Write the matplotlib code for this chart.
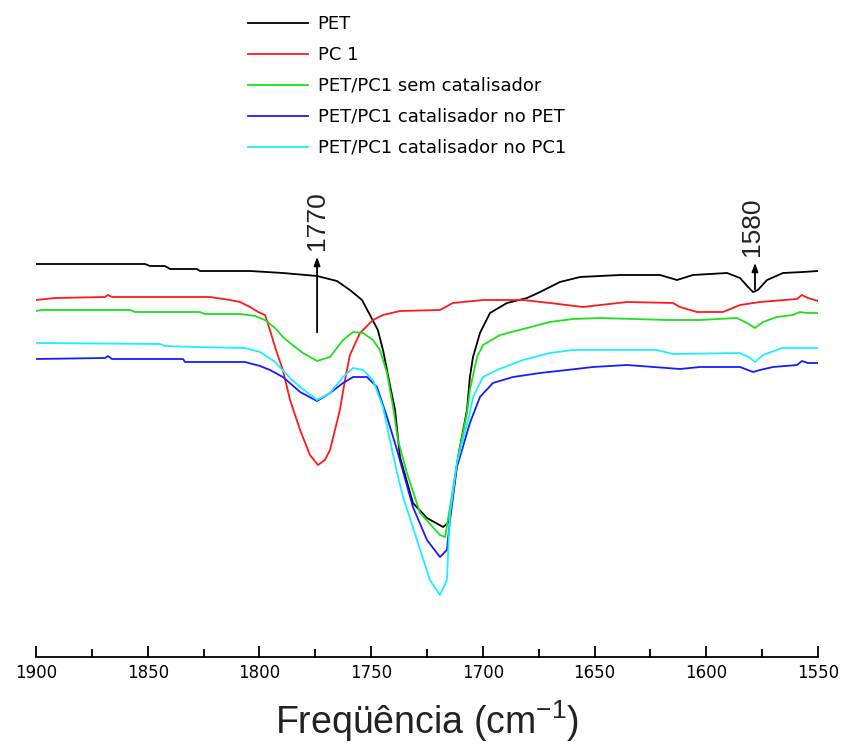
import numpy as np
import matplotlib
matplotlib.use("Agg")
import matplotlib.pyplot as plt
from matplotlib.ticker import MultipleLocator

plt.rcParams["mathtext.fontset"] = "custom"
plt.rcParams["mathtext.rm"] = "Liberation Sans"
plt.rcParams["mathtext.it"] = "Liberation Sans"
arial = ["Liberation Sans", "DejaVu Sans"]

# FTIR spectra, wavenumber (cm-1) vs transmittance (arbitrary units, offset)
pet_x = [1900, 1851.2, 1849, 1842.3, 1840, 1828, 1826.6, 1804.2, 1789.5, 1774.2,
         1765.3, 1759.5, 1754.1, 1750.5, 1747, 1744.7, 1742.9, 1741.6, 1739.3, 1737.1,
         1731.3, 1725, 1717.8, 1715.6, 1713.8, 1711.1, 1707.1, 1705.8, 1704.4, 1701.3,
         1696.8, 1689.2, 1680.2, 1674.4, 1665.5, 1656.5, 1638.6, 1620.7, 1613.1, 1606,
         1590.7, 1584.9, 1581.3, 1579.1, 1576.9, 1572.8, 1565.7, 1556.7, 1550]
pet_y = [78.6, 78.6, 78.2, 78.2, 77.6, 77.6, 77.2, 77.2, 76.8, 76.2,
         75.2, 73.4, 71.4, 68.4, 65.4, 61.4, 57.4, 54.4, 49.4, 40,
         30.8, 27.8, 26, 26.8, 31.4, 40, 49.4, 56, 60, 64.8,
         68.8, 70.8, 71.8, 73, 75, 76, 76.4, 76.4, 75.4, 76.4,
         76.8, 75.8, 74, 73, 73.4, 75.4, 76.8, 77, 77.2]

pc1_x = [1900, 1891.5, 1869.1, 1867.8, 1866, 1822.1, 1813.2, 1808.7, 1804.2, 1800.6,
         1797.5, 1795.3, 1792.6, 1789.5, 1786.3, 1781.8, 1777.4, 1773.8, 1770.7, 1768.4,
         1766.2, 1764, 1761.7, 1759.5, 1755, 1749.2, 1744.7, 1737.1, 1719.2, 1713.4,
         1699.9, 1682, 1669.9, 1655.2, 1635.5, 1614.9, 1611.8, 1604.2, 1592.5, 1584.9,
         1576, 1559.4, 1557.2, 1554.5, 1550]
pc1_y = [71.4, 71.8, 72, 72.4, 72, 72, 71.4, 71, 70, 69,
         68.4, 65.4, 61.4, 57.4, 51.4, 45.4, 40.4, 38.4, 39.4, 41.4,
         45.4, 49.4, 55.4, 60.4, 64.8, 67.4, 68.4, 69.2, 69.4, 70.8,
         71.4, 71.4, 70.8, 70, 71, 70.8, 70, 69, 69, 70.4,
         71, 71.6, 72.4, 71.8, 71.2]

sem_x = [1900, 1897.3, 1857.9, 1855.7, 1826.6, 1824.4, 1808.7, 1802, 1797.5, 1793,
         1789.5, 1786.3, 1780.5, 1774.2, 1768.4, 1762.6, 1758.1, 1753.6, 1749.2, 1746.1,
         1742.9, 1740.2, 1738, 1734, 1728.1, 1719.2, 1716.9, 1714.7, 1711.1, 1707.1,
         1705.8, 1702.6, 1699.9, 1692.3, 1680.2, 1670, 1659.7, 1647.6, 1617.6, 1602.8,
         1586.3, 1581.8, 1578.2, 1574.6, 1568.4, 1561.2, 1558.1, 1554.9, 1550]
sem_y = [69.2, 69.4, 69.4, 69, 69, 68.6, 68.6, 68.2, 67.4, 65.8,
         64, 62.8, 60.8, 59.2, 60, 63.4, 65, 64.8, 63.4, 61.4,
         56.8, 50, 43.4, 36.8, 28.8, 24.4, 24, 30, 40, 48.8,
         53.4, 60, 62.4, 64.4, 65.8, 67, 67.6, 67.8, 67.4, 67.4,
         67.8, 66.8, 65.8, 67, 68, 68.4, 69, 68.8, 68.8]

cat_pet_x = [1900, 1869.1, 1867.8, 1866, 1834.2, 1833.3, 1806.5, 1799.7, 1795.3, 1789.5,
             1781.8, 1774.2, 1768.4, 1762.6, 1758.1, 1751.9, 1747.4, 1742.9, 1738.4, 1731.3,
             1725, 1719.2, 1716.1, 1714.7, 1711.6, 1705.8, 1701.3, 1695.5, 1686.5, 1674.4,
             1662.3, 1650.7, 1635.5, 1617.6, 1611.8, 1602.8, 1584.9, 1579.1, 1576, 1570.1,
             1559.4, 1557.2, 1554.5, 1550]
cat_pet_y = [59.6, 59.8, 60.2, 59.6, 59.6, 59, 59, 58.2, 57.4, 56,
             53, 51.2, 52.8, 54.8, 56, 56, 54, 48, 41.4, 30,
             23.4, 20, 21.4, 27.4, 38, 46.8, 52, 54.8, 56, 56.8,
             57.4, 58, 58.4, 57.8, 57.6, 58, 58, 57, 57.4, 58,
             58.4, 59.2, 58.8, 58.8]

cat_pc1_x = [1900, 1844.5, 1842.3, 1828.8, 1806.5, 1799.7, 1793, 1786.3, 1781.8, 1774.2,
             1768.4, 1762.6, 1758.1, 1753.6, 1749.2, 1744.7, 1741.6, 1738.4, 1735.7, 1729.5,
             1723.7, 1719.2, 1716.1, 1714.7, 1711.6, 1705.8, 1704.4, 1699.9, 1693.7, 1682,
             1670, 1659.7, 1622.1, 1614.9, 1584.9, 1580.4, 1578.2, 1574.6, 1566.1, 1550]
cat_pc1_y = [62.8, 62.6, 62.2, 62, 61.8, 61, 59, 55.8, 54, 51.4,
             52.8, 56, 57.8, 57.4, 55.4, 50, 43.4, 36.8, 32, 23.4,
             15.4, 12.4, 15.4, 28.8, 38.8, 48.8, 52, 56, 57.4, 59.4,
             60.8, 61.4, 61.4, 60.6, 60.8, 59.8, 59, 60.4, 61.8, 61.8]

labels = ["PET", "PC 1", "PET/PC1 sem catalisador",
          "PET/PC1 catalisador no PET", "PET/PC1 catalisador no PC1"]
colors = ["black", "#ff1a1a", "#1ee01e", "#1a1aff", "#1af0ff"]

fig = plt.figure(figsize=(8.45, 7.46), dpi=100)
ax = fig.add_axes([36 / 845, 1 - 657 / 746, 782 / 845, 487 / 746])

series = [(pet_x, pet_y), (pc1_x, pc1_y), (sem_x, sem_y),
          (cat_pet_x, cat_pet_y), (cat_pc1_x, cat_pc1_y)]
for (x, y), lab, c in zip(series, labels, colors):
    ax.plot(x, y, color=c, lw=1.3, label=lab)

# band markers
for xpos, y0, y1, dx, txt in [(1774.2, 64.4, 80.6, 0.0, "1770"),
                              (1578.2, 73.0, 79.4, 1.5, "1580")]:
    ax.annotate("", xy=(xpos, y1), xytext=(xpos, y0),
                arrowprops=dict(arrowstyle="-|>,head_length=0.5,head_width=0.18",
                                color="black", lw=1.3))
    ax.text(xpos + dx, y1 + 0.8, txt, rotation=90, ha="center", va="bottom",
            fontsize=19, color="#222222", family=arial)

ax.set_xlim(1900, 1550)
ax.set_ylim(0, 97.4)
for s in ["top", "left", "right"]:
    ax.spines[s].set_visible(False)
ax.spines["bottom"].set_linewidth(1.3)
ax.set_yticks([])
ax.xaxis.set_major_locator(MultipleLocator(50))
ax.xaxis.set_minor_locator(MultipleLocator(25))
ax.tick_params(axis="x", which="major", direction="in", length=8, width=1.3,
               labelsize=12, pad=5)
ax.tick_params(axis="x", which="minor", direction="in", length=6, width=1.3)
ax.set_xlabel("Freqüência (cm$^{-1}$)", fontsize=27, labelpad=12, family=arial,
              color="#222222")

fig.legend(loc="upper left", bbox_to_anchor=(248 / 845, 0.980), frameon=False,
           fontsize=13, handlelength=3.3, handletextpad=0.55, labelspacing=0.72,
           borderpad=0, borderaxespad=0)

fig.savefig("out.png", dpi=100)
